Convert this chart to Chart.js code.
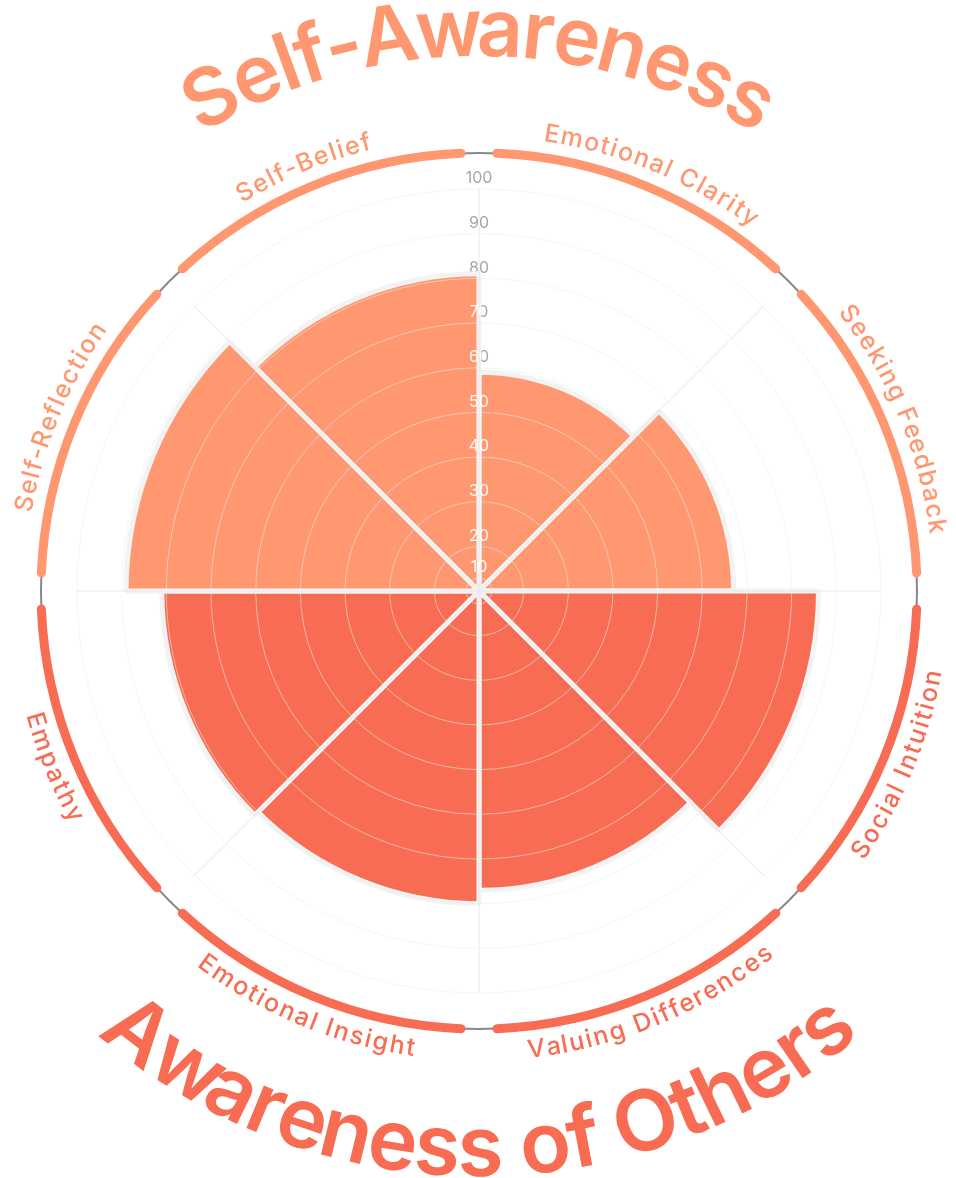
<!DOCTYPE html>
<html>
<head>
<meta charset="utf-8">
<script src="https://cdn.jsdelivr.net/npm/chart.js@4.4.1/dist/chart.umd.min.js"></script>
<style>
  html, body { margin: 0; padding: 0; background: #ffffff; }
  #wrap { width: 956px; height: 1178px; position: relative; }
</style>
</head>
<body>
<div id="wrap"><canvas id="chart"></canvas></div>
<script>
// ---- data ----
const categories = ['Emotional Clarity', 'Seeking Feedback', 'Social Intuition', 'Valuing Differences',
                    'Emotional Insight', 'Empathy', 'Self-Reflection', 'Self-Belief'];
const scores = [59, 67, 86, 77, 80, 81, 89, 81];
const groupNames = ['Self-Awareness', 'Awareness of Others'];
const categoryGroup = [0, 0, 1, 1, 1, 1, 0, 0];
const tickValues = [10, 20, 30, 40, 50, 60, 70, 80, 90, 100];

// ---- style ----
const groupColors = ['#FF9770', '#F76C52'];
const FONT = 'Inter, "Open Sans", "DejaVu Sans", sans-serif';
const RING_R = 438, RING_W = 9, RING_INSET = 0.041;
const CAT_LABEL_R = 462, TITLE_R_UP = 535, TITLE_R_DOWN = 585;
const FIRST_RING_R = 13, TICK_LABEL_OFFSET = 10.5;
const GRID_COLOR = 'rgba(222,244,238,0.55)';
const TITLE_FONT = ['600 80px ', '600 84px '];
const TITLE_SPACING = [-2, -1];

function arcText(ctx, text, cx, cy, r, theta, flipped, baseline, spacing) {
  spacing = spacing || 0;
  const widths = [], pres = [];
  for (let i = 0; i < text.length; i++) {
    pres.push(ctx.measureText(text.slice(0, i)).width + spacing * i);
    widths.push(ctx.measureText(text[i]).width);
  }
  const total = ctx.measureText(text).width + spacing * (text.length - 1);
  const dir = flipped ? -1 : 1;
  const start = theta - dir * total / (2 * r);
  for (let i = 0; i < text.length; i++) {
    const a = start + dir * (pres[i] + widths[i] / 2) / r;
    ctx.save();
    ctx.translate(cx + r * Math.cos(a), cy + r * Math.sin(a));
    ctx.rotate(flipped ? a - Math.PI / 2 : a + Math.PI / 2);
    ctx.textAlign = 'center';
    ctx.textBaseline = baseline;
    ctx.fillText(text[i], 0, 0);
    ctx.restore();
  }
}

function isFlipped(theta) {
  return Math.sin(theta) > 1e-6;   // lower half of the circle
}

const decor = {
  id: 'decor',
  afterDraw(chart) {
    const ctx = chart.ctx;
    const scale = chart.scales.r;
    const cx = scale.xCenter, cy = scale.yCenter;
    const meta = chart.getDatasetMeta(0);

    ctx.save();
    // innermost grid ring (first tick)
    ctx.strokeStyle = GRID_COLOR;
    ctx.lineWidth = 1;
    ctx.beginPath();
    ctx.arc(cx, cy, FIRST_RING_R, 0, Math.PI * 2);
    ctx.stroke();

    // outer thin grey ring
    ctx.strokeStyle = '#888888';
    ctx.lineWidth = 2;
    ctx.beginPath();
    ctx.arc(cx, cy, RING_R, 0, Math.PI * 2);
    ctx.stroke();

    // category arcs + labels
    meta.data.forEach((arc, i) => {
      const color = groupColors[categoryGroup[i]];
      ctx.strokeStyle = color;
      ctx.lineWidth = RING_W;
      ctx.lineCap = 'round';
      ctx.beginPath();
      ctx.arc(cx, cy, RING_R, arc.startAngle + RING_INSET, arc.endAngle - RING_INSET);
      ctx.stroke();

      const mid = (arc.startAngle + arc.endAngle) / 2;
      ctx.fillStyle = color;
      ctx.font = '500 25px ' + FONT;
      arcText(ctx, categories[i], cx, cy, CAT_LABEL_R, mid, isFlipped(mid), 'middle', 1.8);
    });

    // group titles
    groupNames.forEach((name, g) => {
      let sx = 0, sy = 0;
      meta.data.forEach((arc, i) => {
        if (categoryGroup[i] !== g) return;
        const mid = (arc.startAngle + arc.endAngle) / 2;
        sx += Math.cos(mid); sy += Math.sin(mid);
      });
      const theta = Math.atan2(sy, sx);
      const flip = isFlipped(theta);
      ctx.fillStyle = groupColors[g];
      ctx.font = TITLE_FONT[g] + FONT;
      arcText(ctx, name, cx, cy, flip ? TITLE_R_DOWN : TITLE_R_UP, theta, flip, 'alphabetic', TITLE_SPACING[g]);
    });

    // radial tick labels: white over bars, grey over background
    ctx.font = '400 16px ' + FONT;
    ctx.textAlign = 'center';
    ctx.textBaseline = 'middle';
    tickValues.forEach((v, k) => {
      const d = k === 0 ? FIRST_RING_R : scale.getDistanceFromCenterForValue(v);
      const y = cy - d - TICK_LABEL_OFFSET;
      ctx.globalCompositeOperation = 'source-atop';
      ctx.fillStyle = 'rgba(255,255,255,0.95)';
      ctx.fillText(String(v), cx, y);
      ctx.globalCompositeOperation = 'destination-over';
      ctx.fillStyle = '#a6a6a6';
      ctx.fillText(String(v), cx, y);
    });
    ctx.restore();
  }
};

new Chart(document.getElementById('chart'), {
  type: 'polarArea',
  data: {
    labels: categories,
    datasets: [{
      data: scores,
      backgroundColor: categoryGroup.map(g => groupColors[g]),
      borderColor: '#f3f3f3',
      borderWidth: 5
    }]
  },
  options: {
    responsive: true,
    maintainAspectRatio: false,
    animation: false,
    layout: { padding: { left: 77, right: 75, top: 189, bottom: 185 } },
    plugins: { legend: { display: false }, tooltip: { enabled: false } },
    scales: {
      r: {
        min: 10,
        max: 100,
        startAngle: 0,
        ticks: { display: false, stepSize: 10 },
        grid: { z: 1, color: GRID_COLOR, lineWidth: 1, circular: true },
        angleLines: { display: true, color: '#e9e9e9', lineWidth: 1 },
        pointLabels: { display: false }
      }
    }
  },
  plugins: [decor]
});
</script>
</body>
</html>
